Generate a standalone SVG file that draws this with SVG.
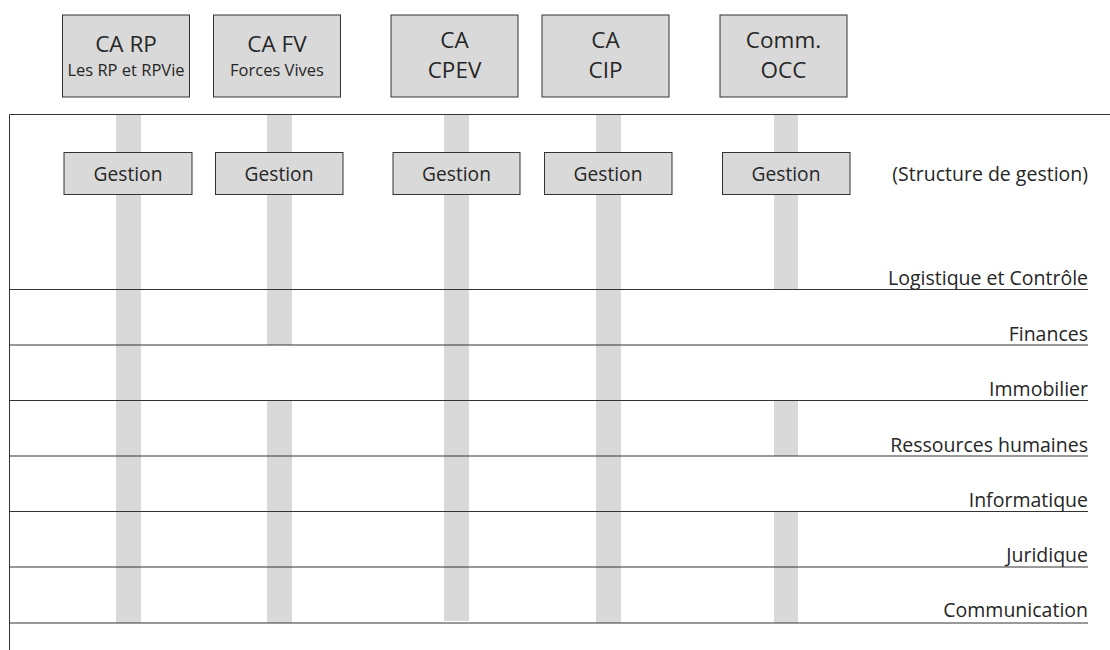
<svg xmlns="http://www.w3.org/2000/svg" width="1110" height="650" viewBox="0 0 1110 650">
<style>
  .box { fill: #d9d9d9; stroke: #333333; stroke-width: 1; }
  .bar { fill: #d9d9d9; }
  .ln { stroke: #333333; stroke-width: 1; fill: none; }
  .t { font-family: "Open Sans", "Liberation Sans", sans-serif; fill: #262626; }
  .big { font-size: 22.5px; text-anchor: middle; }
  .sm { font-size: 16.5px; text-anchor: middle; }
  .g { font-size: 19.2px; text-anchor: middle; }
  .lab { font-size: 19.5px; text-anchor: end; }
</style>
<rect width="1110" height="650" fill="#ffffff"/>
<g id="connectors">
  <rect class="bar" x="116" y="114" width="25" height="509"/>
  <rect class="bar" x="267" y="114" width="25" height="231"/>
  <rect class="bar" x="267" y="400.5" width="25" height="222.5"/>
  <rect class="bar" x="444" y="114" width="25" height="507"/>
  <rect class="bar" x="596" y="114" width="25" height="509"/>
  <rect class="bar" x="774" y="114" width="24" height="175.5"/>
  <rect class="bar" x="774" y="400.5" width="24" height="55.5"/>
  <rect class="bar" x="774" y="511.5" width="24" height="111.5"/>
</g>
<g id="lanes">
  <path class="ln" d="M9.5 114.5 H1110 M9.5 114.5 V650"/>
  <path class="ln" d="M9.5 289.5 H1088 M9.5 345 H1088 M9.5 400.5 H1088 M9.5 456 H1088 M9.5 511.5 H1088 M9.5 567 H1088 M9.5 623 H1088"/>
  <text class="t lab" x="1088" y="181">(Structure de gestion)</text>
  <text class="t lab" x="1088" y="284.5">Logistique et Contrôle</text>
  <text class="t lab" x="1088" y="340.5">Finances</text>
  <text class="t lab" x="1088" y="396">Immobilier</text>
  <text class="t lab" x="1088" y="451.5">Ressources humaines</text>
  <text class="t lab" x="1088" y="506.5">Informatique</text>
  <text class="t lab" x="1088" y="561.5">Juridique</text>
  <text class="t lab" x="1088" y="616.5">Communication</text>
</g>
<g id="ca-rp">
  <rect class="box" x="62.5" y="15" width="127" height="82"/>
  <text class="t big" x="126" y="51.5">CA RP</text>
  <text class="t sm" x="126" y="76">Les RP et RPVie</text>
</g>
<g id="ca-fv">
  <rect class="box" x="213.5" y="15" width="127" height="82"/>
  <text class="t big" x="277" y="51.5">CA FV</text>
  <text class="t sm" x="277" y="76">Forces Vives</text>
</g>
<g id="ca-cpev">
  <rect class="box" x="391" y="15" width="127" height="82"/>
  <text class="t big" x="454.5" y="48">CA</text>
  <text class="t big" x="454.5" y="77.5">CPEV</text>
</g>
<g id="ca-cip">
  <rect class="box" x="542" y="15" width="127" height="82"/>
  <text class="t big" x="605.5" y="48">CA</text>
  <text class="t big" x="605.5" y="77.5">CIP</text>
</g>
<g id="comm-occ">
  <rect class="box" x="720" y="15" width="127" height="82"/>
  <text class="t big" x="783.5" y="48">Comm.</text>
  <text class="t big" x="783.5" y="77.5">OCC</text>
</g>
<g id="gestion-rp">
  <rect class="box" x="64" y="152.5" width="128" height="42"/>
  <text class="t g" x="128" y="181">Gestion</text>
</g>
<g id="gestion-fv">
  <rect class="box" x="215.5" y="152.5" width="127.5" height="42"/>
  <text class="t g" x="279" y="181">Gestion</text>
</g>
<g id="gestion-cpev">
  <rect class="box" x="393" y="152.5" width="127" height="42"/>
  <text class="t g" x="456.5" y="181">Gestion</text>
</g>
<g id="gestion-cip">
  <rect class="box" x="544.5" y="152.5" width="127.5" height="42"/>
  <text class="t g" x="608" y="181">Gestion</text>
</g>
<g id="gestion-occ">
  <rect class="box" x="722.5" y="152.5" width="127.5" height="42"/>
  <text class="t g" x="786" y="181">Gestion</text>
</g>
</svg>
